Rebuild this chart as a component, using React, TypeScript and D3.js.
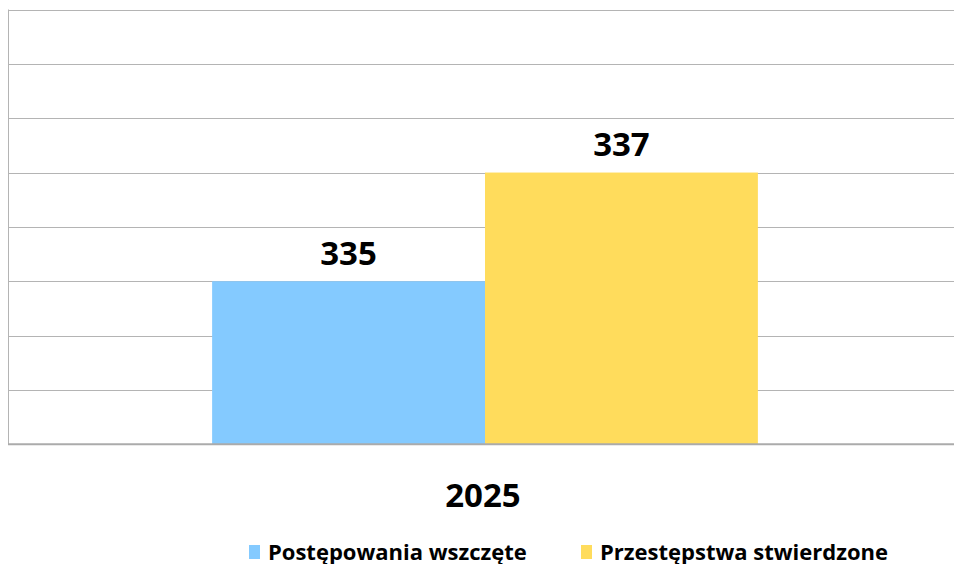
import React, { Component } from "react";
import * as d3 from "d3";

const years = ["2025"];
const series = ["Postępowania wszczęte", "Przestępstwa stwierdzone"];
const values = [335, 337];
const colors = ["#84CAFF", "#FFDC5C"];
const yTicks = [332, 333, 334, 335, 336, 337, 338, 339, 340];

class App extends Component {
  svgRef = React.createRef<SVGSVGElement>();

  componentDidMount() {
    this.draw();
  }

  draw() {
    var w = 954,
      h = 564;
    var svg = d3.select(this.svgRef.current).attr("width", w).attr("height", h);
    svg.selectAll("*").remove();

    var font = "'Open Sans', sans-serif";

    // y scale
    const y = d3.scaleLinear().domain([332, 340]).range([444.3, 9.5]);

    // outer x (years) and inner x (series)
    const x0 = d3.scaleBand().domain(years).range([8, 962]).paddingInner(0).paddingOuter(0.374);
    const x1 = d3.scaleBand().domain(series).range([0, x0.bandwidth()]).padding(0);

    // gridlines
    svg
      .append("g")
      .selectAll("line")
      .data(yTicks.slice(1))
      .join("line")
      .attr("x1", 8)
      .attr("x2", w)
      .attr("y1", (d) => Math.round(y(d)) + 0.5)
      .attr("y2", (d) => Math.round(y(d)) + 0.5)
      .attr("stroke", "#B4B4B4")
      .attr("stroke-width", 1);

    // bars
    const g = svg
      .append("g")
      .selectAll("g")
      .data(years)
      .join("g")
      .attr("transform", (d) => `translate(${x0(d)},0)`);

    g.selectAll("rect")
      .data(series.map((s, i) => ({ s: s, v: values[i], c: colors[i] })))
      .join("rect")
      .attr("x", (d) => x1(d.s)!)
      .attr("y", (d) => y(d.v))
      .attr("width", x1.bandwidth())
      .attr("height", (d) => y(332) - y(d.v))
      .attr("fill", (d) => d.c);

    // value labels
    g.selectAll("text")
      .data(series.map((s, i) => ({ s: s, v: values[i] })))
      .join("text")
      .attr("x", (d) => x1(d.s)! + x1.bandwidth() / 2)
      .attr("y", (d) => y(d.v) - 16.5)
      .attr("text-anchor", "middle")
      .attr("font-family", font)
      .attr("font-weight", "bold")
      .attr("font-size", 33)
      .attr("fill", "#000")
      .text((d) => d.v);

    // axis lines
    svg
      .append("line")
      .attr("x1", 8.5)
      .attr("x2", 8.5)
      .attr("y1", y(340))
      .attr("y2", y(332))
      .attr("stroke", "#B4B4B4")
      .attr("stroke-width", 1);
    svg
      .append("line")
      .attr("x1", 8)
      .attr("x2", w)
      .attr("y1", y(332))
      .attr("y2", y(332))
      .attr("stroke", "#ABABAB")
      .attr("stroke-width", 2);

    // category label
    svg
      .selectAll(".x_label")
      .data(years)
      .join("text")
      .attr("class", "x_label")
      .attr("x", (d) => x0(d)! + x0.bandwidth() / 2 - 2)
      .attr("y", 506.5)
      .attr("text-anchor", "middle")
      .attr("font-family", font)
      .attr("font-weight", "bold")
      .attr("font-size", 33)
      .attr("fill", "#000")
      .text((d) => d);

    // legend
    const legX = [249, 581];
    const leg = svg
      .append("g")
      .selectAll("g")
      .data(series)
      .join("g")
      .attr("transform", (d, i) => `translate(${legX[i]},0)`);
    leg
      .append("rect")
      .attr("x", 0)
      .attr("y", 545)
      .attr("width", 11)
      .attr("height", 14)
      .attr("fill", (d, i) => colors[i]);
    leg
      .append("text")
      .attr("x", 19)
      .attr("y", 559.5)
      .attr("font-family", font)
      .attr("font-weight", "bold")
      .attr("font-size", 22)
      .attr("fill", "#000")
      .text((d) => d);
  }

  render() {
    return (
      <svg
        ref={this.svgRef}
        style={{ position: "absolute", left: 0, top: 0, background: "#fff" }}
      ></svg>
    );
  }
}

export default App;
